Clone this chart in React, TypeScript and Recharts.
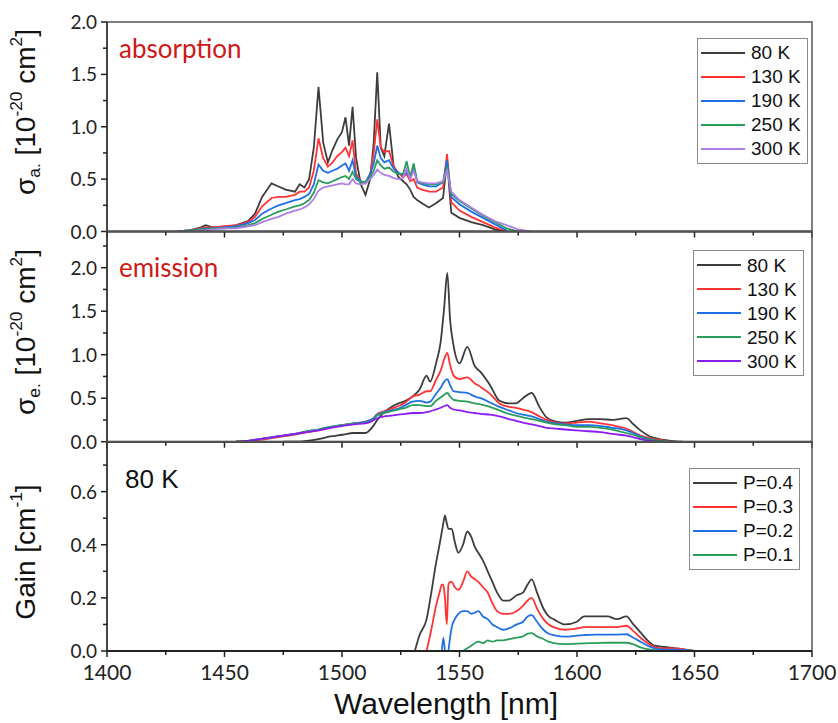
import React from "react";
import { LineChart, Line, XAxis, YAxis, Legend, ReferenceArea } from "recharts";

// ---- absorption cross-section (10^-20 cm^2) ----
const absWl = [
  1430, 1435, 1440, 1442, 1445, 1450, 1455, 1460,
  1463, 1466, 1470, 1473, 1476, 1480, 1482, 1484,
  1486, 1488, 1490, 1492, 1494, 1496, 1498, 1500,
  1501.5, 1503, 1504.5, 1506, 1508, 1510, 1512, 1513.5,
  1515, 1516.5, 1518, 1520, 1522, 1524, 1526, 1527.5,
  1529, 1530.5, 1532, 1534, 1537, 1540, 1543, 1544.7,
  1546.5, 1550, 1555, 1560, 1565, 1570, 1575, 1580,
];
const abs80 = [
  0, 0.01, 0.04, 0.06, 0.04, 0.04, 0.06, 0.1,
  0.17, 0.33, 0.46, 0.43, 0.4, 0.38, 0.45, 0.42,
  0.5, 0.8, 1.38, 0.85, 0.66, 0.78, 0.88, 0.95,
  1.09, 0.82, 1.19, 0.7, 0.45, 0.35, 0.5, 0.85,
  1.52, 0.8, 0.72, 1.03, 0.62, 0.52, 0.48, 0.45,
  0.4, 0.33, 0.3, 0.27, 0.23, 0.27, 0.32, 0.68,
  0.18, 0.13, 0.09, 0.06, 0.02, 0, null, null,
];
const abs130 = [
  0, 0.01, 0.03, 0.04, 0.04, 0.05, 0.06, 0.09,
  0.14, 0.24, 0.32, 0.33, 0.33, 0.35, 0.38, 0.38,
  0.42, 0.58, 0.89, 0.7, 0.62, 0.66, 0.72, 0.76,
  0.8, 0.72, 0.87, 0.55, 0.48, 0.46, 0.55, 0.75,
  1.07, 0.8, 0.76, 0.77, 0.62, 0.56, 0.52, 0.55,
  0.48, 0.5, 0.42, 0.4, 0.38, 0.38, 0.42, 0.74,
  0.28, 0.2, 0.14, 0.09, 0.04, 0, null, null,
];
const abs190 = [
  0, 0.01, 0.02, 0.03, 0.03, 0.04, 0.05, 0.08,
  0.11, 0.17, 0.22, 0.25, 0.27, 0.3, 0.31, 0.33,
  0.36, 0.45, 0.64, 0.58, 0.56, 0.58, 0.6, 0.63,
  0.65, 0.58, 0.68, 0.52, 0.48, 0.47, 0.55, 0.65,
  0.82, 0.7, 0.66, 0.68, 0.6, 0.56, 0.54, 0.56,
  0.52, 0.62, 0.47, 0.45, 0.43, 0.43, 0.47, 0.68,
  0.33, 0.26, 0.19, 0.13, 0.07, 0.01, null, null,
];
const abs250 = [
  0, 0.01, 0.02, 0.02, 0.03, 0.03, 0.04, 0.06,
  0.08, 0.12, 0.16, 0.19, 0.21, 0.24, 0.25, 0.27,
  0.3, 0.37, 0.49, 0.47, 0.46, 0.48, 0.5, 0.52,
  0.53, 0.5, 0.57, 0.5, 0.47, 0.47, 0.52, 0.58,
  0.68, 0.63, 0.6, 0.61, 0.57, 0.55, 0.55, 0.67,
  0.52, 0.65, 0.48, 0.46, 0.45, 0.45, 0.47, 0.62,
  0.36, 0.29, 0.22, 0.15, 0.09, 0.03, 0, null,
];
const abs300 = [
  0, 0, 0.01, 0.01, 0.02, 0.03, 0.03, 0.05,
  0.06, 0.09, 0.12, 0.14, 0.17, 0.2, 0.21, 0.23,
  0.26, 0.31, 0.39, 0.42, 0.43, 0.44, 0.45, 0.46,
  0.45, 0.45, 0.5, 0.46, 0.45, 0.46, 0.5, 0.54,
  0.59, 0.56, 0.54, 0.53, 0.51, 0.5, 0.51, 0.6,
  0.5, 0.58, 0.48, 0.47, 0.46, 0.46, 0.48, 0.58,
  0.38, 0.3, 0.23, 0.16, 0.1, 0.06, 0.02, 0,
];

// ---- emission cross-section (10^-20 cm^2) ----
const emWl = [
  1455, 1460, 1465, 1470, 1475, 1480, 1485, 1490,
  1495, 1500, 1505, 1510, 1513, 1515, 1518, 1521,
  1524, 1527, 1530, 1533, 1536, 1537.5, 1540, 1542,
  1543.5, 1544.8, 1546, 1547.5, 1550, 1553.3, 1556.5, 1559,
  1563, 1567, 1571, 1574, 1577, 1580.7, 1584, 1587,
  1591, 1595, 1600, 1605, 1610, 1615, 1618, 1621,
  1624, 1627, 1631, 1635, 1640, 1645,
];
const em80 = [
  null, null, null, null, 0, 0, 0.01, 0.03,
  0.06, 0.08, 0.1, 0.1, 0.17, 0.25, 0.34, 0.4,
  0.44, 0.47, 0.52, 0.6, 0.76, 0.69, 0.9, 1.15,
  1.55, 1.94, 1.4, 1.1, 0.9, 1.09, 0.87, 0.8,
  0.65, 0.47, 0.44, 0.44, 0.5, 0.56, 0.4, 0.28,
  0.23, 0.22, 0.24, 0.26, 0.26, 0.25, 0.26, 0.27,
  0.2, 0.13, 0.06, 0.03, 0.01, 0,
];
const em130 = [
  0, 0.01, 0.02, 0.04, 0.06, 0.08, 0.11, 0.13,
  0.16, 0.19, 0.21, 0.23, 0.26, 0.32, 0.35, 0.38,
  0.41, 0.45, 0.52, 0.54, 0.58, 0.58, 0.71, 0.82,
  0.95, 1.02, 0.88, 0.76, 0.72, 0.74, 0.67, 0.63,
  0.55, 0.44, 0.4, 0.39, 0.37, 0.34, 0.29, 0.25,
  0.22, 0.21, 0.22, 0.23, 0.21, 0.19, 0.17, 0.15,
  0.11, 0.07, 0.04, 0.02, 0, null,
];
const em190 = [
  0, 0.01, 0.03, 0.05, 0.07, 0.09, 0.12, 0.14,
  0.17, 0.19, 0.21, 0.23, 0.26, 0.31, 0.34, 0.36,
  0.38, 0.42, 0.46, 0.47, 0.45, 0.46, 0.55, 0.62,
  0.69, 0.72, 0.65, 0.58, 0.57, 0.56, 0.52, 0.5,
  0.45, 0.4, 0.36, 0.33, 0.31, 0.29, 0.26, 0.23,
  0.21, 0.2, 0.19, 0.19, 0.18, 0.16, 0.15, 0.13,
  0.1, 0.06, 0.03, 0.01, 0, null,
];
const em250 = [
  0, 0.01, 0.03, 0.05, 0.07, 0.09, 0.12, 0.14,
  0.17, 0.19, 0.21, 0.22, 0.25, 0.3, 0.33, 0.35,
  0.37, 0.39, 0.42, 0.42, 0.41, 0.41, 0.47, 0.51,
  0.54, 0.56, 0.52, 0.48, 0.47, 0.46, 0.44, 0.43,
  0.4, 0.36, 0.32, 0.3, 0.28, 0.26, 0.24, 0.22,
  0.2, 0.19, 0.17, 0.17, 0.16, 0.14, 0.12, 0.1,
  0.08, 0.05, 0.02, 0.01, 0, null,
];
const em300 = [
  0, 0.01, 0.03, 0.05, 0.07, 0.09, 0.11, 0.13,
  0.16, 0.18, 0.2, 0.21, 0.24, 0.27, 0.29, 0.3,
  0.31, 0.32, 0.33, 0.33, 0.34, 0.35, 0.37, 0.39,
  0.41, 0.42, 0.39, 0.37, 0.36, 0.34, 0.33, 0.32,
  0.31, 0.29, 0.26, 0.24, 0.22, 0.2, 0.18, 0.16,
  0.15, 0.14, 0.13, 0.12, 0.11, 0.09, 0.08, 0.07,
  0.05, 0.03, 0.01, 0, null, null,
];

// ---- gain at 80 K (cm^-1) ----
const gainWl = [
  1531, 1533, 1536, 1538, 1540, 1541.5, 1542.5, 1543.1,
  1543.8, 1544.6, 1545.3, 1546, 1546.7, 1548, 1549.5, 1551.5,
  1553.3, 1555, 1556.6, 1558, 1560, 1562, 1564, 1566,
  1568.6, 1571, 1574.3, 1577, 1579, 1580.7, 1583, 1585.7,
  1588, 1590, 1595, 1600, 1603, 1608, 1613, 1617,
  1621, 1624, 1627, 1630, 1633, 1637, 1642, 1646,
  1650,
];
const gainP04 = [
  0, 0.06, 0.12, 0.22, 0.33, 0.4, 0.45, 0.48,
  0.51, 0.48, 0.46, 0.46, 0.46, 0.41, 0.37, 0.4,
  0.45, 0.43, 0.39, 0.37, 0.34, 0.3, 0.26, 0.22,
  0.19, 0.19, 0.21, 0.22, 0.25, 0.27, 0.22, 0.16,
  0.13, 0.12, 0.1, 0.11, 0.13, 0.13, 0.13, 0.12,
  0.13, 0.1, 0.07, 0.04, 0.02, 0.015, 0.01, 0.005,
  0,
];
const gainP03 = [
  null, null, 0, 0.08, 0.17, 0.22, 0.25, 0.25,
  0.2, 0.1, 0.25, 0.26, 0.26, 0.24, 0.23, 0.26,
  0.3, 0.28, 0.27, 0.26, 0.24, 0.22, 0.18, 0.15,
  0.14, 0.14, 0.15, 0.17, 0.19, 0.2, 0.16, 0.12,
  0.1, 0.09, 0.08, 0.085, 0.09, 0.09, 0.09, 0.09,
  0.095, 0.075, 0.05, 0.03, 0.015, 0.01, 0.01, 0.005,
  0,
];
const gainP02 = [
  null, null, null, null, null, null, 0, 0.05,
  0, null, 0, 0.05, 0.09, 0.12, 0.14, 0.15,
  0.15, 0.14, 0.145, 0.15, 0.13, 0.12, 0.1, 0.09,
  0.08, 0.085, 0.1, 0.11, 0.13, 0.135, 0.11, 0.08,
  0.065, 0.06, 0.054, 0.058, 0.06, 0.062, 0.062, 0.062,
  0.063, 0.05, 0.035, 0.02, 0.01, 0.005, 0.005, 0.003,
  0,
];
const gainP01 = [
  null, null, null, null, null, null, null, null,
  null, null, null, null, null, null, null, 0,
  0.01, 0.02, 0.03, 0.035, 0.03, 0.04, 0.035, 0.04,
  0.04, 0.045, 0.05, 0.055, 0.065, 0.067, 0.055, 0.045,
  0.035, 0.03, 0.026, 0.028, 0.029, 0.03, 0.031, 0.031,
  0.031, 0.025, 0.014, 0.007, 0.003, 0, null, null,
  null,
];

const xTicks = [1400, 1425, 1450, 1475, 1500, 1525, 1550, 1575, 1600, 1625, 1650, 1675, 1700];
const absTicks = [0, 0.25, 0.5, 0.75, 1, 1.25, 1.5, 1.75, 2];
const emTicks = [0, 0.25, 0.5, 0.75, 1, 1.25, 1.5, 1.75, 2, 2.25];
const gainTicks = [0, 0.1, 0.2, 0.3, 0.4, 0.5, 0.6, 0.7];

const GRAY = "#3d3d3d";
const RED = "#ff3333";
const BLUE = "#1f6fe6";
const GREEN = "#2a9d5c";

type Series = { key: string; name: string; color: string; values: (number | null)[] };

const absSeries: Series[] = [
  { key: "k80", name: "80 K", color: GRAY, values: abs80 },
  { key: "k130", name: "130 K", color: RED, values: abs130 },
  { key: "k190", name: "190 K", color: BLUE, values: abs190 },
  { key: "k250", name: "250 K", color: GREEN, values: abs250 },
  { key: "k300", name: "300 K", color: "#b07fe6", values: abs300 },
];
const emSeries: Series[] = [
  { key: "k80", name: "80 K", color: GRAY, values: em80 },
  { key: "k130", name: "130 K", color: RED, values: em130 },
  { key: "k190", name: "190 K", color: BLUE, values: em190 },
  { key: "k250", name: "250 K", color: GREEN, values: em250 },
  { key: "k300", name: "300 K", color: "#8c1cf5", values: em300 },
];
const gainSeries: Series[] = [
  { key: "p4", name: "P=0.4", color: GRAY, values: gainP04 },
  { key: "p3", name: "P=0.3", color: RED, values: gainP03 },
  { key: "p2", name: "P=0.2", color: BLUE, values: gainP02 },
  { key: "p1", name: "P=0.1", color: GREEN, values: gainP01 },
];

function buildRows(wl: number[], series: Series[]) {
  return wl.map((w, i) => {
    const row: Record<string, number | null> = { wl: w };
    series.forEach((s) => {
      const v = s.values[i];
      row[s.key] = v === undefined ? null : v;
    });
    return row;
  });
}

const XTick = (props: any) => {
  const { x, y, payload, labels } = props;
  const v = payload.value;
  const major = Math.abs(v % 50) < 1e-6;
  return (
    <g>
      <line x1={x} x2={x} y1={y} y2={y + (major ? 6 : 4)} stroke="#222" strokeWidth={1.5} />
      {labels && major && (
        <text x={x} y={y + 29} textAnchor="middle" fontSize={21} fontFamily="Lato" fill="#222">
          {v}
        </text>
      )}
    </g>
  );
};

const YTick = (props: any) => {
  const { x, y, payload, step } = props;
  const v = payload.value;
  const major = Math.abs(v / step - Math.round(v / step)) < 1e-6;
  return (
    <g>
      <line x1={x} x2={x - (major ? 6 : 4)} y1={y} y2={y} stroke="#222" strokeWidth={1.5} />
      {major && (
        <text x={x - 10} y={y + 7} textAnchor="end" fontSize={19} fontFamily="Lato" fill="#222">
          {v.toFixed(1)}
        </text>
      )}
    </g>
  );
};

function LegendBox({ items }: { items: Series[] }) {
  return (
    <div
      style={{
        border: "1.5px solid #8a8a8a",
        background: "#fff",
        padding: "2px 6px 2px 3px",
        fontFamily: "'Liberation Sans', Arial, sans-serif",
        fontSize: 19,
        color: "#111",
      }}
    >
      {items.map((s) => (
        <div key={s.key} style={{ display: "flex", alignItems: "center", height: 24 }}>
          <span style={{ width: 44, borderTop: `2px solid ${s.color}` }} />
          <span style={{ marginLeft: 6, lineHeight: 1 }}>{s.name}</span>
        </div>
      ))}
    </div>
  );
}

type PanelProps = {
  top: number;
  bottom: number;
  height: number;
  wl: number[];
  series: Series[];
  yMax: number;
  yTicks: number[];
  yStep: number;
  curve: "linear" | "monotone";
  xLabels: boolean;
  legendAt: { left: number; top: number };
};

function Panel(p: PanelProps) {
  const rows = buildRows(p.wl, p.series);
  return (
    <div style={{ position: "absolute", left: 0, top: 0 }}>
      <LineChart width={838} height={p.height} data={rows} margin={{ top: p.top, right: 26, bottom: 0, left: 0 }}>
        <XAxis
          dataKey="wl"
          type="number"
          domain={[1400, 1700]}
          ticks={xTicks}
          interval={0}
          allowDataOverflow
          tickSize={0}
          tickMargin={0}
          tickLine={false}
          height={p.height - p.bottom}
          axisLine={{ stroke: "#222", strokeWidth: 2 }}
          tick={(t: any) => <XTick {...t} labels={p.xLabels} />}
        />
        <YAxis
          type="number"
          domain={[0, p.yMax]}
          ticks={p.yTicks}
          interval={0}
          allowDataOverflow
          tickSize={0}
          tickMargin={0}
          tickLine={false}
          width={107}
          axisLine={{ stroke: "#333", strokeWidth: 1.5 }}
          tick={(t: any) => <YTick {...t} step={p.yStep} />}
        />
        <ReferenceArea x1={1400} x2={1700} y1={0} y2={p.yMax} fill="none" stroke="#555" strokeWidth={1.5} />
        {p.series.map((s) => (
          <Line
            key={s.key}
            dataKey={s.key}
            name={s.name}
            type={p.curve}
            stroke={s.color}
            strokeWidth={1.8}
            dot={false}
            activeDot={false}
            isAnimationActive={false}
          />
        ))}
        <Legend
          layout="vertical"
          align="center"
          verticalAlign="middle"
          wrapperStyle={{ left: p.legendAt.left, top: p.legendAt.top, width: "auto" }}
          content={() => <LegendBox items={p.series} />}
        />
      </LineChart>
    </div>
  );
}

const sub: React.CSSProperties = { fontSize: "0.62em", verticalAlign: "-0.3em", lineHeight: 0 };
const sup: React.CSSProperties = { fontSize: "0.62em", verticalAlign: "0.75em", lineHeight: 0 };

function YTitle({ cy, children }: { cy: number; children: React.ReactNode }) {
  return (
    <div
      style={{
        position: "absolute",
        left: 26,
        top: cy,
        transform: "translate(-50%, -50%) rotate(-90deg)",
        whiteSpace: "nowrap",
        fontFamily: "'Liberation Sans', Arial, sans-serif",
        fontSize: 28,
        lineHeight: 1,
        color: "#111",
      }}
    >
      {children}
    </div>
  );
}

export default function App() {
  return (
    <div
      style={{
        position: "absolute",
        left: 0,
        top: 0,
        width: 838,
        height: 723,
        background: "#fff",
        overflow: "hidden",
      }}
    >
      <Panel
        top={22}
        bottom={231.5}
        height={262}
        wl={absWl}
        series={absSeries}
        yMax={2}
        yTicks={absTicks}
        yStep={0.5}
        curve="linear"
        xLabels={false}
        legendAt={{ left: 697, top: 37.5 }}
      />
      <Panel
        top={231.5}
        bottom={441.7}
        height={472}
        wl={emWl}
        series={emSeries}
        yMax={2.416}
        yTicks={emTicks}
        yStep={0.5}
        curve="monotone"
        xLabels={false}
        legendAt={{ left: 693, top: 250 }}
      />
      <Panel
        top={441.7}
        bottom={651}
        height={723}
        wl={gainWl}
        series={gainSeries}
        yMax={0.788}
        yTicks={gainTicks}
        yStep={0.2}
        curve="monotone"
        xLabels={true}
        legendAt={{ left: 689, top: 467.5 }}
      />

      <div style={{ position: "absolute", left: 119, top: 35, fontFamily: "Lato", fontSize: 26, lineHeight: 1, color: "#d01818" }}>
        absorption
      </div>
      <div style={{ position: "absolute", left: 119, top: 253.5, fontFamily: "Lato", fontSize: 26, lineHeight: 1, color: "#d01818" }}>
        emission
      </div>
      <div
        style={{
          position: "absolute",
          left: 125,
          top: 466,
          fontFamily: "'Liberation Sans', Arial, sans-serif",
          fontSize: 26,
          lineHeight: 1,
          color: "#111",
        }}
      >
        80 K
      </div>

      <YTitle cy={112}>
        σ<span style={sub}>a.</span> [10<span style={sup}>-20</span> cm<span style={sup}>2</span>]
      </YTitle>
      <YTitle cy={331.5}>
        σ<span style={sub}>e.</span> [10<span style={sup}>-20</span> cm<span style={sup}>2</span>]
      </YTitle>
      <YTitle cy={552}>
        Gain [cm<span style={sup}>-1</span>]
      </YTitle>

      <div
        style={{
          position: "absolute",
          left: 446,
          top: 689,
          transform: "translateX(-50%)",
          whiteSpace: "nowrap",
          fontFamily: "'Liberation Sans', Arial, sans-serif",
          fontSize: 30,
          lineHeight: 1,
          color: "#111",
        }}
      >
        Wavelength [nm]
      </div>
    </div>
  );
}
